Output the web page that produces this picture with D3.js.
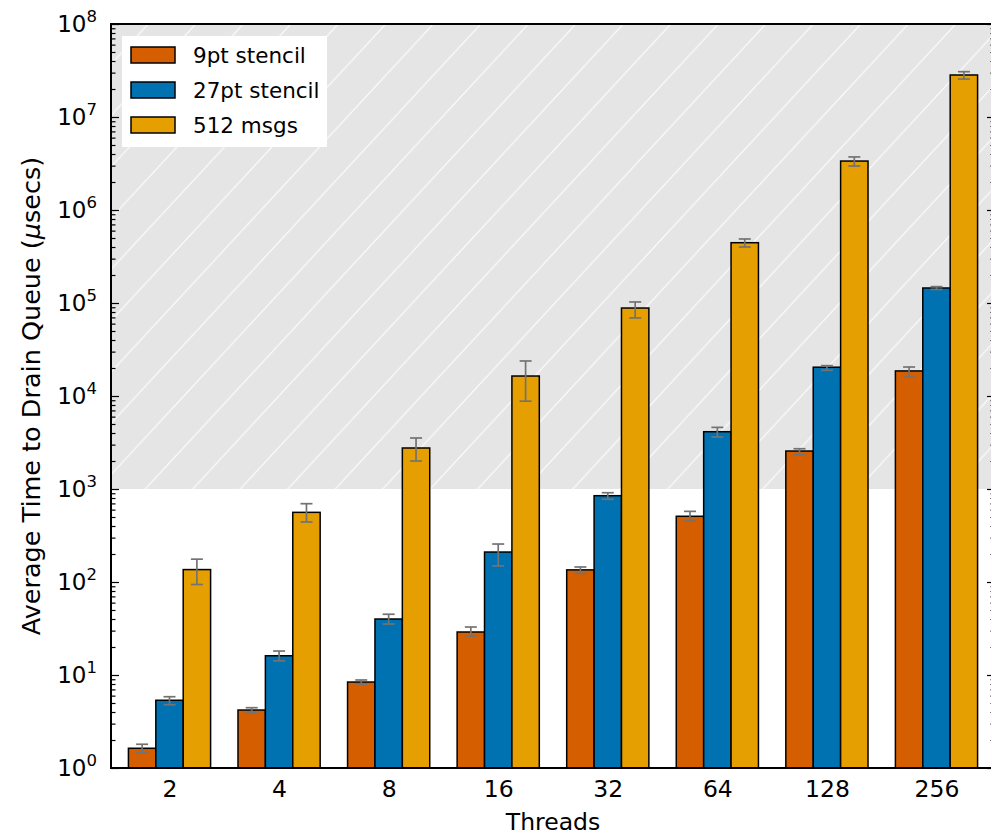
<!DOCTYPE html>
<html>
<head>
<meta charset="utf-8">
<script src="https://cdn.jsdelivr.net/npm/d3@7"></script>
<style>
  body { margin: 0; background: white; }
  svg { display: block; font-family: "DejaVu Sans", sans-serif; }
</style>
</head>
<body>
<div id="chart"></div>
<script>
const layout = {
    width: 991,
    height: 836,
    left: 111,
    right: 995,
    top: 24,
    bottom: 768
};

// data
const threads = ["2", "4", "8", "16", "32", "64", "128", "256"];
const seriesNames = ["9pt stencil", "27pt stencil", "512 msgs"];
const seriesColors = ["#D55E00", "#0072B2", "#E69F00"];

const stencil9 = [1.63, 4.2, 8.4, 29, 135, 509, 2560, 18600];
const stencil9Lo = [1.46, 3.97, 8.0, 26.3, 124, 453, 2340, 16000];
const stencil9Hi = [1.80, 4.45, 8.84, 32.8, 145, 575, 2710, 20500];

const stencil27 = [5.35, 16.1, 40, 210, 847, 4130, 20400, 145000];
const stencil27Lo = [4.79, 14.2, 35.3, 149, 775, 3620, 18900, 140000];
const stencil27Hi = [5.84, 18.1, 45, 256, 912, 4600, 21200, 150000];

const msgs512 = [136, 561, 2760, 16400, 88300, 445000, 3360000, 28300000];
const msgs512Lo = [94, 442, 2000, 8800, 69100, 400000, 2970000, 25600000];
const msgs512Hi = [176, 695, 3535, 23800, 102600, 488000, 3720000, 30700000];

const yTicks = [1, 10, 100, 1e3, 1e4, 1e5, 1e6, 1e7, 1e8];
const shadeFrom = 1e3;

const series = [
    { name: seriesNames[0], color: seriesColors[0], values: stencil9, lo: stencil9Lo, hi: stencil9Hi },
    { name: seriesNames[1], color: seriesColors[1], values: stencil27, lo: stencil27Lo, hi: stencil27Hi },
    { name: seriesNames[2], color: seriesColors[2], values: msgs512, lo: msgs512Lo, hi: msgs512Hi }
];

let svg = d3.select("#chart").append("svg")
    .attr("width", layout.width)
    .attr("height", layout.height);

let xGroup = d3.scalePoint()
    .domain(threads)
    .range([layout.left, layout.right])
    .padding(0.534);
let step = xGroup.step();
let xSeries = d3.scaleBand()
    .domain(seriesNames)
    .range([-0.375 * step, 0.375 * step]);
let yScale = d3.scaleLog()
    .domain([1, 1e8])
    .range([layout.bottom, layout.top]);

// hatch pattern for the shaded region
const hw = 47.5, hh = 51.3;
let defs = svg.append("defs");
let pat = defs.append("pattern")
    .attr("id", "hatch")
    .attr("patternUnits", "userSpaceOnUse")
    .attr("x", 5.8)
    .attr("y", layout.top)
    .attr("width", hw)
    .attr("height", hh);
pat.append("rect").attr("width", hw).attr("height", hh).attr("fill", "#e5e5e5");
pat.append("path")
    .attr("d", `M${-hw * 0.2},${hh * 1.2} L${hw * 1.2},${-hh * 0.2} M${-hw * 0.2},${hh * 0.2} L${hw * 0.2},${-hh * 0.2} M${hw * 0.8},${hh * 1.2} L${hw * 1.2},${hh * 0.8}`)
    .attr("stroke", "white")
    .attr("stroke-width", 1.1)
    .attr("fill", "none");

defs.append("clipPath").attr("id", "plotclip")
    .append("rect")
    .attr("x", layout.left).attr("y", layout.top)
    .attr("width", layout.right - layout.left)
    .attr("height", layout.bottom - layout.top);

svg.append("rect")
    .attr("x", layout.left)
    .attr("y", yScale(1e8))
    .attr("width", layout.right - layout.left)
    .attr("height", yScale(shadeFrom) - yScale(1e8))
    .attr("fill", "url(#hatch)");

// bars
let plot = svg.append("g").attr("clip-path", "url(#plotclip)");
series.forEach(s => {
    let g = plot.append("g");
    g.selectAll("rect").data(threads)
        .join("rect")
        .attr("x", (t, i) => xGroup(t) + xSeries(s.name))
        .attr("y", (t, i) => yScale(s.values[i]))
        .attr("width", xSeries.bandwidth())
        .attr("height", (t, i) => yScale(1) - yScale(s.values[i]))
        .attr("fill", s.color)
        .attr("stroke", "black")
        .attr("stroke-width", 1.5);
});

// error bars
series.forEach(s => {
    let g = plot.append("g")
        .attr("stroke", "#737373")
        .attr("stroke-width", 1.7)
        .attr("fill", "none");
    threads.forEach((t, i) => {
        let cx = xGroup(t) + xSeries(s.name) + xSeries.bandwidth() / 2;
        g.append("line")
            .attr("x1", cx).attr("x2", cx)
            .attr("y1", yScale(s.lo[i])).attr("y2", yScale(s.hi[i]));
        [s.lo[i], s.hi[i]].forEach(v => {
            g.append("line")
                .attr("x1", cx - 6).attr("x2", cx + 6)
                .attr("y1", yScale(v)).attr("y2", yScale(v));
        });
    });
});

// minor tick values for log axis
let minorTicks = [];
for (let k = 0; k < 8; k++) {
    for (let m = 2; m <= 9; m++) minorTicks.push(m * Math.pow(10, k));
}

function styleAxis(ax) {
    ax.selectAll(".domain").remove();
    ax.selectAll("line").attr("stroke", "black").attr("stroke-width", 1.2);
}

let yAxis = svg.append("g")
    .attr("transform", `translate(${layout.left},0)`)
    .call(d3.axisLeft(yScale).tickValues(yTicks).tickSize(-8).tickFormat(""));
styleAxis(yAxis);
let yMinor = svg.append("g")
    .attr("transform", `translate(${layout.left},0)`)
    .call(d3.axisLeft(yScale).tickValues(minorTicks).tickSize(-4.5).tickFormat(""));
styleAxis(yMinor);
let yAxisR = svg.append("g")
    .attr("transform", `translate(${layout.right},0)`)
    .call(d3.axisRight(yScale).tickValues(yTicks).tickSize(-8).tickFormat(""));
styleAxis(yAxisR);
let yMinorR = svg.append("g")
    .attr("transform", `translate(${layout.right},0)`)
    .call(d3.axisRight(yScale).tickValues(minorTicks).tickSize(-4.5).tickFormat(""));
styleAxis(yMinorR);

// y tick labels 10^k
yTicks.forEach(v => {
    let t = svg.append("text")
        .attr("x", 97)
        .attr("y", yScale(v) + 8.3)
        .attr("text-anchor", "end")
        .attr("fill", "black");
    t.append("tspan").attr("font-size", 23).text("10");
    t.append("tspan").attr("font-size", 16.5).attr("dy", -10.5).text(Math.round(Math.log10(v)));
});

// x axis
let xAxis = svg.append("g")
    .attr("transform", `translate(0,${layout.bottom})`)
    .call(d3.axisBottom(xGroup).tickSize(0).tickPadding(12));
xAxis.selectAll(".domain").remove();
xAxis.selectAll("text")
    .attr("font-size", 23.5)
    .attr("font-family", "DejaVu Sans")
    .attr("fill", "black");

// spines
svg.append("rect")
    .attr("x", layout.left).attr("y", layout.top)
    .attr("width", layout.right - layout.left)
    .attr("height", layout.bottom - layout.top)
    .attr("fill", "none")
    .attr("stroke", "black")
    .attr("stroke-width", 2);

// axis titles
svg.append("text")
    .attr("x", (layout.left + layout.right) / 2)
    .attr("y", 830)
    .attr("text-anchor", "middle")
    .attr("font-size", 23.5)
    .text("Threads");

let ylab = svg.append("text")
    .attr("transform", `translate(40,396) rotate(-90)`)
    .attr("text-anchor", "middle")
    .attr("font-size", 25.5);
ylab.append("tspan").text("Average Time to Drain Queue (");
ylab.append("tspan").attr("font-style", "italic").text("\u03BC");
ylab.append("tspan").text("secs)");

// legend
let legend = svg.append("g");
legend.append("rect")
    .attr("x", 122).attr("y", 36)
    .attr("width", 205).attr("height", 111)
    .attr("fill", "white");
series.forEach((s, i) => {
    let cy = 55 + i * 35;
    legend.append("rect")
        .attr("x", 131).attr("y", cy - 8)
        .attr("width", 44).attr("height", 16)
        .attr("fill", s.color)
        .attr("stroke", "black")
        .attr("stroke-width", 1.5);
    legend.append("text")
        .attr("x", 193).attr("y", cy + 7.5)
        .attr("font-size", 21.5)
        .text(s.name);
});
</script>
</body>
</html>
